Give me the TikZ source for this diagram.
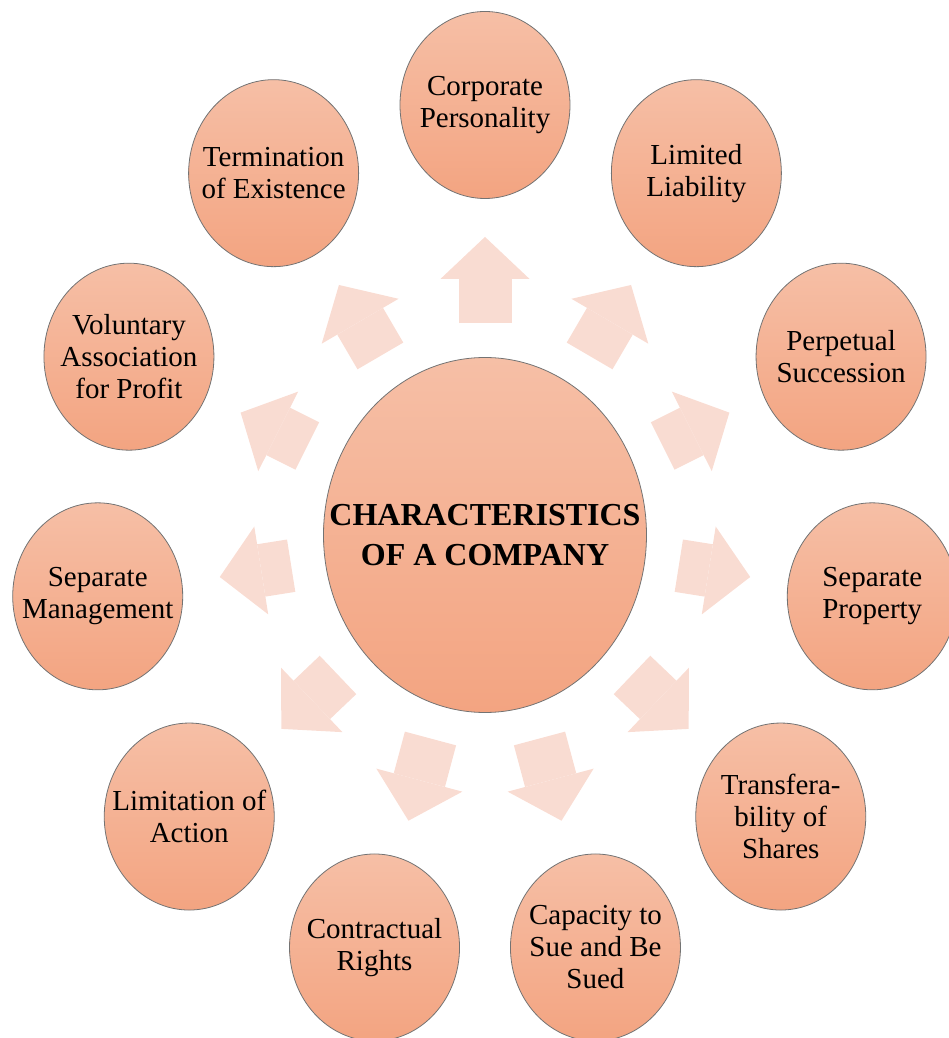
\documentclass[tikz,border=0pt]{standalone}
\usepackage{fontspec}
\setmainfont{Liberation Serif}
\usetikzlibrary{arrows.meta,shapes.geometric}

\definecolor{peachtop}{HTML}{F6BFA6}
\definecolor{peachbottom}{HTML}{F3A481}
\definecolor{blush}{HTML}{F9DCD2}

\tikzset{
  trait/.style={ellipse,draw=black!55,line width=0.8pt,top color=peachtop,bottom color=peachbottom,
    minimum width=170pt,minimum height=187pt,inner xsep=-40pt,inner ysep=0pt,align=center,
    font=\fontsize{29}{32}\selectfont},
  hub/.style={trait,minimum width=323pt,minimum height=355pt,inner xsep=-50pt,
    font=\fontsize{32}{40}\selectfont\bfseries},
  push/.style={draw=blush,line width=53pt,shorten <=34pt,shorten >=38pt,
    -{Triangle[width=89pt,length=42pt,line width=0pt]}}
}

\begin{document}
\begin{tikzpicture}[x=0.91pt,y=1pt]
\useasboundingbox (-485pt,-503pt) rectangle (464pt,535pt);

\node[hub] (0) at (0,0){CHARACTERISTICS\\OF A COMPANY};
\node[trait] (1) at (90:430){Corporate\\Personality};
\node[trait] (2) at (57.3:430){Limited\\Liability};
\node[trait] (3) at (24.5:430){Perpetual\\Succession};
\node[trait] (4) at (-8.2:430){Separate\\Property};
\node[trait] (5) at (-40.9:430){Transfera-\\bility of\\Shares};
\node[trait] (6) at (-73.6:430){Capacity to\\Sue and Be\\Sued};
\node[trait] (7) at (-106.4:430){Contractual\\Rights};
\node[trait] (8) at (-139.1:430){Limitation of\\Action};
\node[trait] (9) at (-171.8:430){Separate\\Management};
\node[trait] (10) at (155.5:430){Voluntary\\Association\\for Profit};
\node[trait] (11) at (122.7:430){Termination\\of Existence};
\draw[push] (0) -- (1);
\draw[push] (0) -- (2);
\draw[push] (0) -- (3);
\draw[push] (0) -- (4);
\draw[push] (0) -- (5);
\draw[push] (0) -- (6);
\draw[push] (0) -- (7);
\draw[push] (0) -- (8);
\draw[push] (0) -- (9);
\draw[push] (0) -- (10);
\draw[push] (0) -- (11);

\end{tikzpicture}
\end{document}
